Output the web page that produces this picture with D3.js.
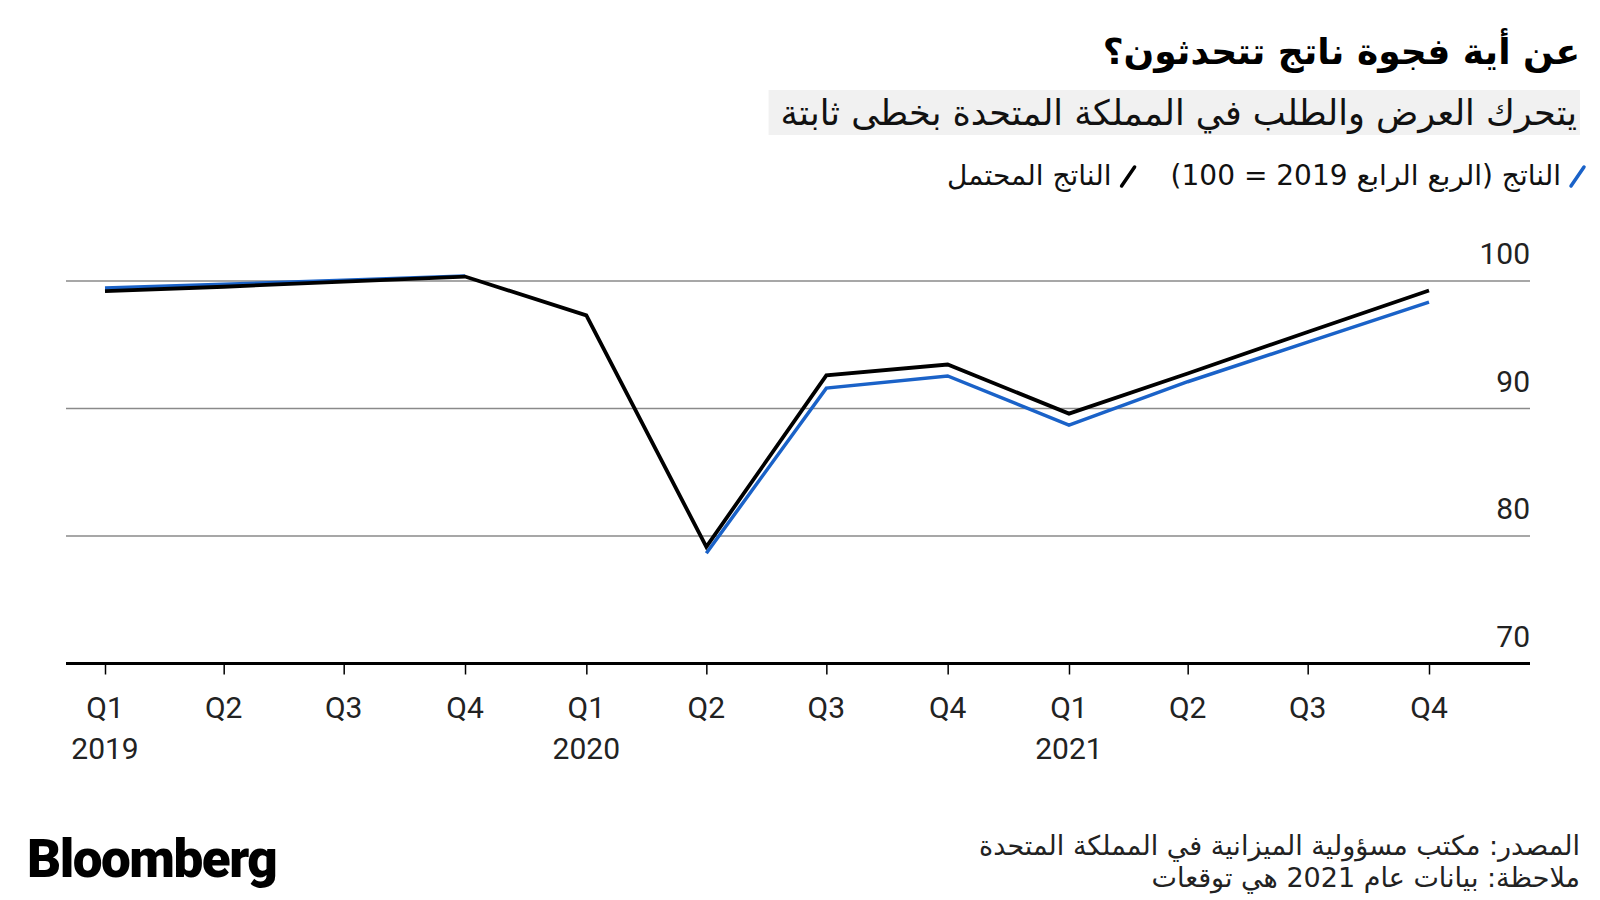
<!DOCTYPE html>
<html>
<head>
<meta charset="utf-8">
<script src="https://cdn.jsdelivr.net/npm/d3@7"></script>
<style>
  body { margin: 0; background: #fff; }
  svg { display: block; }
</style>
</head>
<body>
<svg id="chart" width="1600" height="900"></svg>
<script>
"use strict";

// quarters on the x axis
const quarterDates = ["2019-01-01", "2019-04-01", "2019-07-01", "2019-10-01",
	"2020-01-01", "2020-04-01", "2020-07-01", "2020-10-01",
	"2021-01-01", "2021-04-01", "2021-07-01", "2021-10-01"];
const quarterLabels = ["Q1", "Q2", "Q3", "Q4", "Q1", "Q2", "Q3", "Q4", "Q1", "Q2", "Q3", "Q4"];
const yearLabels = ["2019", "", "", "", "2020", "", "", "", "2021", "", "", ""];

// series values (Q4 2019 = 100); null = not drawn
const potentialOutput = [99.2, 99.55, 99.95, 100.35, 97.3, 79.15, 92.6, 93.45, 89.6, 92.75, 96.0, 99.25];
const actualOutput = [99.45, 99.75, 100.05, 100.4, null, 78.65, 91.6, 92.55, 88.7, 92.1, 95.2, 98.35];

const yTicks = [70, 80, 90, 100];

const titleText = "عن أية فجوة ناتج تتحدثون؟";
const subtitleText = "يتحرك العرض والطلب في المملكة المتحدة بخطى ثابتة";
const legendLabels = ["الناتج (الربع الرابع 2019 = 100)", "الناتج المحتمل"];
const sourceLines = ["المصدر: مكتب مسؤولية الميزانية في المملكة المتحدة", "ملاحظة: بيانات عام 2021 هي توقعات"];

const blue = "#1a62c8";
const arabicFont = "'DejaVu Sans', sans-serif";
const latinFont = "Roboto, 'Open Sans', sans-serif";

const svg = d3.select("#chart");
const parse = d3.utcParse("%Y-%m-%d");
const dates = quarterDates.map(parse);

const plotLeft = 66, plotRight = 1530;

const x = d3.scaleUtc()
	.domain([dates[0], dates[dates.length - 1]])
	.range([105, 1429]);

const y = d3.scaleLinear()
	.domain([70, 100])
	.range([663.5, 281]);

// title
svg.append("text")
	.attr("x", 1580).attr("y", 64)
	.attr("direction", "rtl").attr("text-anchor", "start")
	.style("font-family", arabicFont).style("font-weight", "bold")
	.style("font-size", "36px").attr("fill", "#000")
	.text(titleText);

// subtitle with grey band
const subG = svg.append("g");
const subBox = subG.append("rect").attr("fill", "#f1f1f1");
const sub = subG.append("text")
	.attr("x", 1577).attr("y", 125)
	.attr("direction", "rtl").attr("text-anchor", "start")
	.style("font-family", arabicFont).style("font-size", "35px")
	.attr("fill", "#111")
	.text(subtitleText);
const sb = sub.node().getBBox();
subBox.attr("x", sb.x - 12).attr("y", 90).attr("width", 1580 - sb.x + 12).attr("height", 45);

// legend
const legend = svg.append("g");
let lx = 1584;
[blue, "#000"].forEach(function(col, i) {
	legend.append("line")
		.attr("x1", lx - 13).attr("y1", 186)
		.attr("x2", lx).attr("y2", 167)
		.attr("stroke", col).attr("stroke-width", 3.5)
		.attr("stroke-linecap", "round");
	const t = legend.append("text")
		.attr("x", lx - 23).attr("y", 185)
		.attr("direction", "rtl").attr("text-anchor", "start")
		.style("font-family", arabicFont).style("font-size", "28px")
		.attr("fill", "#111")
		.text(legendLabels[i]);
	lx = lx - 23 - t.node().getComputedTextLength() - 36;
});

// gridlines and y labels
const grid = svg.append("g");
yTicks.filter(d => d > 70).forEach(function(v) {
	grid.append("line")
		.attr("x1", plotLeft).attr("x2", plotRight)
		.attr("y1", y(v)).attr("y2", y(v))
		.attr("stroke", "#8a8a8a").attr("stroke-width", 1.5);
});
yTicks.forEach(function(v) {
	grid.append("text")
		.attr("x", plotRight).attr("y", y(v) - 17)
		.attr("text-anchor", "end")
		.style("font-family", latinFont).style("font-size", "30px")
		.attr("fill", "#222")
		.text(v);
});

// lines
const line = d3.line()
	.defined(d => d !== null)
	.x((d, i) => x(dates[i]))
	.y(d => y(d));

svg.append("path")
	.datum(actualOutput)
	.attr("fill", "none")
	.attr("stroke", blue)
	.attr("stroke-width", 3.5)
	.attr("d", line);

svg.append("path")
	.datum(potentialOutput)
	.attr("fill", "none")
	.attr("stroke", "#000")
	.attr("stroke-width", 3.8)
	.attr("d", line);

// x axis
const xAxis = svg.append("g")
	.attr("transform", "translate(0," + y(70) + ")")
	.call(d3.axisBottom(x).tickValues(dates).tickSize(11).tickFormat(""));
xAxis.select(".domain").remove();
xAxis.selectAll(".tick line").attr("stroke", "#000").attr("stroke-width", 1.5);

svg.append("line")
	.attr("x1", plotLeft).attr("x2", plotRight)
	.attr("y1", y(70)).attr("y2", y(70))
	.attr("stroke", "#000").attr("stroke-width", 3);

const xl = svg.append("g")
	.style("font-family", latinFont).style("font-size", "30px")
	.attr("fill", "#222").attr("text-anchor", "middle");
dates.forEach(function(d, i) {
	xl.append("text").attr("x", x(d)).attr("y", 718).text(quarterLabels[i]);
	if (yearLabels[i]) {
		xl.append("text").attr("x", x(d)).attr("y", 759).text(yearLabels[i]);
	}
});

// footer
svg.append("text")
	.attr("x", 27).attr("y", 877)
	.style("font-family", latinFont).style("font-weight", "900")
	.style("font-size", "53px").style("letter-spacing", "-1.5px")
	.attr("fill", "#000")
	.text("Bloomberg");

sourceLines.forEach(function(s, i) {
	svg.append("text")
		.attr("x", 1580).attr("y", 855 + i * 32)
		.attr("direction", "rtl").attr("text-anchor", "start")
		.style("font-family", arabicFont).style("font-size", "27px")
		.attr("fill", "#222")
		.text(s);
});
</script>
</body>
</html>
